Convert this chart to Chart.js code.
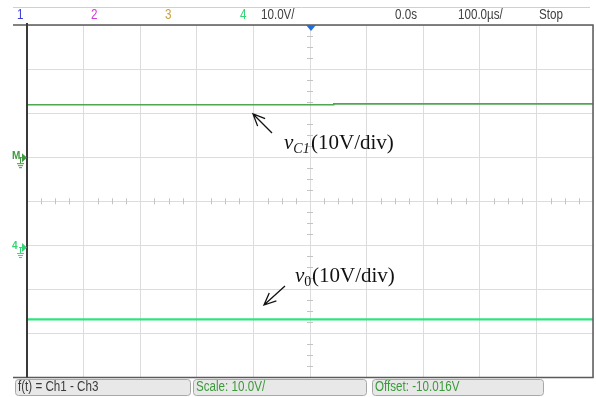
<!DOCTYPE html>
<html>
<head>
<meta charset="utf-8">
<script src="https://cdn.jsdelivr.net/npm/chart.js@4/dist/chart.umd.min.js"></script>
<style>
  html, body { margin: 0; padding: 0; background: #ffffff; }
  #wrap { width: 596px; height: 397px; position: relative; }
</style>
</head>
<body>
<div id="wrap"><canvas id="scope"></canvas></div>
<script>
// Time base: 100 us/div, 10 divisions; vertical: 10 V/div, 8 divisions
const timeTicks = [-500, -400, -300, -200, -100, 0, 100, 200, 300, 400, 500];
const voltTicks = [-40, -30, -20, -10, 0, 10, 20, 30, 40];

// Trace samples (time in us, screen position in volts at 10 V/div)
const vc1Time = [-500, 42, 42, 500];
const vc1Volts = [21.9, 21.9, 22.1, 22.1];
const v0Time = [-500, 500];
const v0Volts = [-26.8, -26.8];

// Ground reference levels for the math channel and channel 4
const groundLabels = ['M', '4'];
const groundVolts = [10.0, -10.4];
const groundColors = ['#3f9a3f', '#2fd873'];

// Header and status bar text
const headerLabels = ['1', '2', '3', '4', '10.0V/', '0.0s', '100.0µs/', 'Stop'];
const statusLabels = ['f(t) = Ch1 - Ch3', 'Scale: 10.0V/', 'Offset: -10.016V'];

const toPoints = (xs, ys) => xs.map((x, i) => ({ x: x, y: ys[i] }));

const uiFont = '14px "Liberation Sans", Arial, sans-serif';

// draws horizontally condensed UI text, like the instrument's narrow font
function narrowText(ctx, s, x, y, color) {
  ctx.save();
  ctx.font = uiFont;
  ctx.fillStyle = color;
  ctx.textAlign = 'left';
  ctx.textBaseline = 'middle';
  ctx.translate(x, y);
  ctx.scale(0.83, 1);
  ctx.fillText(s, 0, 0);
  ctx.restore();
}

const scopeDecor = {
  id: 'scopeDecor',
  beforeDatasetsDraw(chart) {
    const { ctx, scales } = chart;
    const x0 = scales.x.getPixelForValue(0);
    const y0 = scales.y.getPixelForValue(0);
    const qx = (scales.x.getPixelForValue(100) - x0) / 4;
    const qy = (scales.y.getPixelForValue(0) - scales.y.getPixelForValue(10)) / 4;
    ctx.save();
    ctx.strokeStyle = '#c4c4c4';
    ctx.lineWidth = 1;
    ctx.beginPath();
    for (let t = -20; t <= 20; t++) {
      if (t % 4 === 0) continue;
      const px = Math.round(x0 + t * qx) + 0.5;
      ctx.moveTo(px, y0 - 3); ctx.lineTo(px, y0 + 3);
    }
    for (let t = -16; t <= 16; t++) {
      if (t % 4 === 0) continue;
      const py = Math.round(y0 + t * qy) + 0.5;
      ctx.moveTo(x0 - 3, py); ctx.lineTo(x0 + 3, py);
    }
    ctx.stroke();
    ctx.restore();
  },
  afterDraw(chart) {
    const { ctx, chartArea: a, scales } = chart;
    ctx.save();
    // frame
    ctx.strokeStyle = '#5a5a5a';
    ctx.lineWidth = 1.5;
    ctx.beginPath();
    ctx.moveTo(13, a.top); ctx.lineTo(a.right, a.top);
    ctx.lineTo(a.right, a.bottom); ctx.lineTo(13, a.bottom);
    ctx.stroke();
    ctx.strokeStyle = '#3a3a3a';
    ctx.lineWidth = 2;
    ctx.beginPath();
    ctx.moveTo(a.left, a.top - 2); ctx.lineTo(a.left, a.bottom);
    ctx.stroke();
    // header separator
    ctx.strokeStyle = '#d0d0d0';
    ctx.lineWidth = 1;
    ctx.beginPath();
    ctx.moveTo(13, 7.5); ctx.lineTo(590, 7.5);
    ctx.stroke();

    // header text
    const hdrX = [17, 91, 165, 240, 261, 395, 458, 539];
    const hdrC = ['#3b3bd6', '#d23bd6', '#c8a040', '#2fd873', '#404040', '#404040', '#404040', '#404040'];
    headerLabels.forEach((s, i) => narrowText(ctx, s, hdrX[i], 15.5, hdrC[i]));

    // trigger marker
    const tx = scales.x.getPixelForValue(0) + 1;
    ctx.fillStyle = '#1f6fe0';
    ctx.beginPath();
    ctx.moveTo(tx - 5, a.top); ctx.lineTo(tx + 5, a.top); ctx.lineTo(tx, a.top + 6);
    ctx.closePath(); ctx.fill();

    // ground markers
    groundVolts.forEach((v, i) => {
      const py = scales.y.getPixelForValue(v);
      const c = groundColors[i];
      ctx.fillStyle = c; ctx.strokeStyle = c; ctx.lineWidth = 1;
      ctx.font = 'bold 10px "Liberation Sans", sans-serif';
      ctx.textAlign = 'left'; ctx.textBaseline = 'alphabetic';
      ctx.fillText(groundLabels[i], 12, py + 2);
      ctx.beginPath();
      ctx.moveTo(19, py + 0.5); ctx.lineTo(23, py + 0.5);
      ctx.moveTo(20.5, py); ctx.lineTo(20.5, py + 6);
      ctx.moveTo(17, py + 6.5); ctx.lineTo(24, py + 6.5);
      ctx.moveTo(18, py + 8.5); ctx.lineTo(23, py + 8.5);
      ctx.moveTo(19, py + 10.5); ctx.lineTo(22, py + 10.5);
      ctx.stroke();
      ctx.beginPath();
      ctx.moveTo(22, py - 4); ctx.lineTo(27, py + 0.5); ctx.lineTo(22, py + 5);
      ctx.closePath(); ctx.fill();
    });

    // status bar boxes
    const boxes = [[15, 193], [193, 369], [372, 546]];
    const boxC = ['#3a3a3a', '#3a9a3a', '#3a9a3a'];
    boxes.forEach((b, i) => {
      ctx.fillStyle = '#e8e8e8';
      ctx.strokeStyle = '#a8a8a8';
      ctx.lineWidth = 1;
      ctx.beginPath();
      ctx.roundRect(b[0] + 0.5, 379.5, b[1] - b[0] - 3, 16, 3);
      ctx.fill(); ctx.stroke();
      narrowText(ctx, statusLabels[i], b[0] + 3, 387.5, boxC[i]);
    });

    // annotations
    const arrow = (x1, y1, x2, y2) => {
      const ang = Math.atan2(y2 - y1, x2 - x1);
      const h = 13, sp = 0.42;
      ctx.beginPath();
      ctx.moveTo(x1, y1); ctx.lineTo(x2, y2);
      ctx.moveTo(x2 - h * Math.cos(ang - sp), y2 - h * Math.sin(ang - sp));
      ctx.lineTo(x2, y2);
      ctx.lineTo(x2 - h * Math.cos(ang + sp), y2 - h * Math.sin(ang + sp));
      ctx.stroke();
    };
    ctx.strokeStyle = '#111111';
    ctx.lineWidth = 1.3;
    arrow(272, 133, 253, 114);
    arrow(285, 286, 264, 305);

    const serif = '"Liberation Serif", "Times New Roman", serif';
    const label = (x, y, sub, parenX) => {
      ctx.fillStyle = '#111111';
      ctx.textAlign = 'left'; ctx.textBaseline = 'alphabetic';
      ctx.font = 'italic 21px ' + serif;
      ctx.fillText('v', x, y);
      const cx = x + ctx.measureText('v').width;
      ctx.font = (sub === '0' ? '' : 'italic ') + '14px ' + serif;
      ctx.fillText(sub, cx, y + 4);
      ctx.font = '21px ' + serif;
      ctx.fillText('(10V/div)', parenX, y);
    };
    label(284, 149, 'C1', 311);
    label(295, 282, '0', 312);
    ctx.restore();
  }
};

new Chart(document.getElementById('scope'), {
  type: 'line',
  data: {
    datasets: [
      { label: 'vC1', data: toPoints(vc1Time, vc1Volts), borderColor: '#4fa84f', borderWidth: 1.6, pointRadius: 0, tension: 0 },
      { label: 'v0', data: toPoints(v0Time, v0Volts), borderColor: '#2fe47e', borderWidth: 2.2, pointRadius: 0, tension: 0 }
    ]
  },
  options: {
    responsive: true,
    maintainAspectRatio: false,
    animation: false,
    events: [],
    layout: { padding: { left: 27, right: 3, top: 25, bottom: 19.5 } },
    plugins: { legend: { display: false }, tooltip: { enabled: false } },
    scales: {
      x: {
        type: 'linear', min: -500, max: 500,
        afterBuildTicks: s => { s.ticks = timeTicks.map(v => ({ value: v })); },
        afterFit: s => { s.height = 0; },
        ticks: { display: false },
        grid: { color: '#dcdcdc', lineWidth: 1, drawTicks: false },
        border: { display: false }
      },
      y: {
        type: 'linear', min: -40, max: 40,
        afterBuildTicks: s => { s.ticks = voltTicks.map(v => ({ value: v })); },
        afterFit: s => { s.width = 0; },
        ticks: { display: false },
        grid: { color: '#dcdcdc', lineWidth: 1, drawTicks: false },
        border: { display: false }
      }
    }
  },
  plugins: [scopeDecor]
});
</script>
</body>
</html>
